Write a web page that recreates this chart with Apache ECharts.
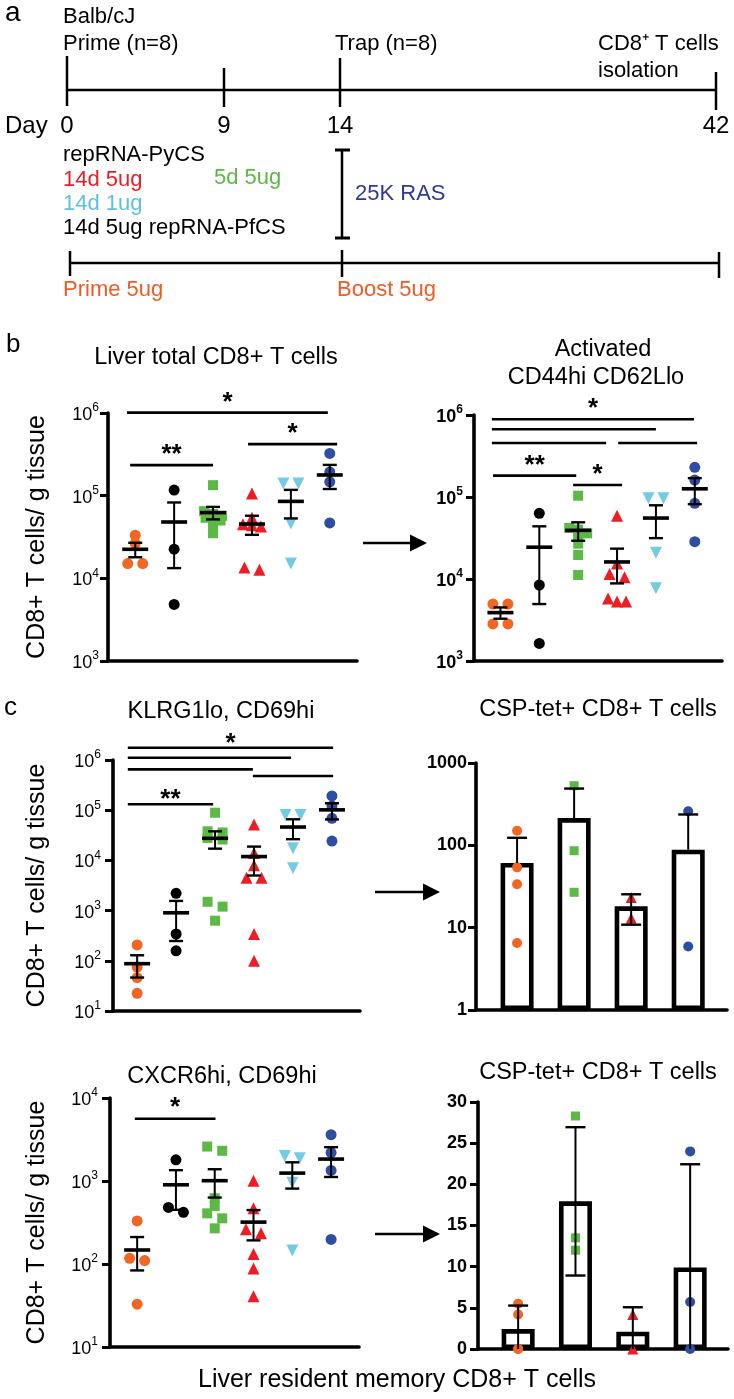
<!DOCTYPE html>
<html><head><meta charset="utf-8">
<script src="https://cdn.jsdelivr.net/npm/echarts@6/dist/echarts.min.js"></script>
<style>html,body{margin:0;padding:0;background:#fff}#c{width:734px;height:1399px}</style>
</head><body><div id="c"></div>
<script>
// ---------- data ----------
const scatterGroups = ['Prime/Boost 5ug', '14d 5ug repRNA-PfCS', '5d 5ug', '14d 5ug', '14d 1ug', '25K RAS'];
const barGroups = ['Prime/Boost 5ug', '5d 5ug', '14d 5ug', '25K RAS'];

// b: Liver total CD8+ T cells (cells / g tissue)
const totalOrange = [33200, 26400, 15100, 15100];
const totalBlack  = [116700, 22500, 4840];
const totalGreen  = [134000, 65000, 60000, 57000, 54000, 50000, 44000, 35100];
const totalRed    = [106000, 54000, 45000, 44000, 42500, 13500, 12700];
const totalCyan   = [140000, 140000, 46000, 15100];
const totalBlue   = [324000, 194000, 147000, 46800];

// b: Activated CD44hi CD62Llo
const actOrange = [4950, 4950, 2830, 2830];
const actBlack  = [63200, 8450, 1640];
const actGreen  = [103700, 42000, 40000, 36000, 34000, 27000, 19600, 11200];
const actRed    = [59100, 15500, 11500, 10500, 5800, 5300, 5300];
const actCyan   = [96400, 96400, 20900, 7710];
const actBlue   = [230000, 161000, 83800, 28500];

// c: KLRG1lo, CD69hi
const klrOrange = [207, 75, 46, 22.5];
const klrBlack  = [2210, 342, 158];
const klrGreen  = [89000, 38000, 36000, 28000, 26000, 1500, 1200, 630];
const klrRed    = [52000, 14000, 8000, 4500, 4500, 342, 100];
const klrCyan   = [80200, 80200, 17400, 6970];
const klrBlue   = [192000, 121000, 69000, 24300];

// c: CSP-tet+ CD8+ T cells (KLRG1lo CD69hi), log bars
const tetKOrange = [150, 54, 33.6, 6.5];
const tetKGreen  = [530, 86, 26.9];
const tetKRed    = [23.3, 13];
const tetKBlue   = [260, 5.9, 0];

// c: CXCR6hi, CD69hi
const cxcOrange = [330, 117, 110, 32.8];
const cxcBlack  = [1800, 480, 420];
const cxcGreen  = [2600, 2310, 620, 501, 408, 355, 269];
const cxcRed    = [1010, 469, 262, 234, 132, 88.5, 41];
const cxcCyan   = [2000, 1880, 955, 145];
const cxcBlue   = [3610, 2200, 1340, 198];

// c: CSP-tet+ CD8+ T cells (CXCR6hi CD69hi), linear bars
const tetCOrange = [5.5, 4.2, 0, 0];
const tetCGreen  = [28.3, 13.5, 12];
const tetCRed    = [4.2, 0];
const tetCBlue   = [24, 5.7, 0];

// tick labels
const ticksTotal = [1e3, 1e4, 1e5, 1e6];
const ticksKlr   = [1e1, 1e6];
const ticksTetK  = [1, 10, 100, 1000];
const ticksCxc   = [1e1, 1e4];
const ticksTetC  = [0, 5, 10, 15, 20, 25, 30];

// significance annotations: [fromX, toX, level, label]
const sigTotal = [[-0.21, 4.95, 1.01e6, '*'], [-0.13, 2.0, 2.34e5, '**'], [2.9, 5.19, 4.2e5, '*']];
const sigActivated = [[-0.22, 4.98, 8.86e5, '*'], [-0.22, 4.0, 6.7e5, ''], [-0.22, 2.72, 4.55e5, ''],
                      [3.03, 5.06, 4.55e5, ''], [-0.19, 1.95, 1.82e5, '**'], [1.87, 3.13, 1.4e5, '*']];
const sigKlr = [[-0.24, 5.03, 1.76e6, '*'], [-0.24, 3.95, 1.11e6, ''], [-0.24, 2.97, 6.5e5, ''],
                [2.97, 5.03, 4.8e5, ''], [-0.24, 1.95, 1.31e5, '**']];
const sigCxc = [[-0.06, 2.02, 5.62e3, '*']];

// ---------- styles ----------
const FONTF = '"Liberation Sans", Arial, Helvetica, sans-serif';
const COLORS = ['#f26522', '#000000', '#5cb946', '#ee1c25', '#73cbe4', '#2d4ea2'];
const SYMBOLS = ['circle', 'circle', 'rect', 'triangle', 'triangle', 'circle'];
const ROT = [0, 0, 0, 0, 180, 0];
const SIZES = [11, 11, 10, 12, 12, 11];
const BARIDX = [0, 2, 3, 5];

const panels = [
  {values: [totalOrange, totalBlack, totalGreen, totalRed, totalCyan, totalBlue], kind: 'scatter',
   grid: {left: 108, top: 413, width: 249, height: 248}, xr: [-0.7, 5.7], yType: 'log', ticks: ticksTotal,
   bold: false, margin: 9, yName: 'CD8+ T cells/ g tissue', nameGap: 58, sig: sigTotal, starGap: 16},
  {values: [actOrange, actBlack, actGreen, actRed, actCyan, actBlue], kind: 'scatter',
   grid: {left: 474, top: 415, width: 248, height: 246}, xr: [-0.68, 5.7], yType: 'log', ticks: ticksTotal,
   bold: true, margin: 11, sig: sigActivated, starGap: 16},
  {values: [klrOrange, klrBlack, klrGreen, klrRed, klrCyan, klrBlue], kind: 'scatter',
   grid: {left: 113, top: 760, width: 247, height: 251}, xr: [-0.62, 5.72], yType: 'log', ticks: ticksKlr,
   bold: false, margin: 12, yName: 'CD8+ T cells/ g tissue', nameGap: 63, sig: sigKlr, starGap: 10},
  {values: [tetKOrange, tetKGreen, tetKRed, tetKBlue], kind: 'bar',
   grid: {left: 476, top: 763, width: 251, height: 247}, xr: [-0.72, 3.68], yType: 'log', ticks: ticksTetK,
   bold: true, margin: 9},
  {values: [cxcOrange, cxcBlack, cxcGreen, cxcRed, cxcCyan, cxcBlue], kind: 'scatter',
   grid: {left: 110, top: 1098, width: 249, height: 249}, xr: [-0.7, 5.72], yType: 'log', ticks: ticksCxc,
   bold: false, margin: 12, yName: 'CD8+ T cells/ g tissue', nameGap: 60, sig: sigCxc, starGap: 17},
  {values: [tetCOrange, tetCGreen, tetCRed, tetCBlue], kind: 'bar',
   grid: {left: 478, top: 1102, width: 250, height: 247}, xr: [-0.7, 3.66], yType: 'value', ticks: ticksTetC,
   bold: true, margin: 11}
];

function mean(a) { return a.reduce((s, v) => s + v, 0) / a.length; }
function sdev(a) { const m = mean(a); return Math.sqrt(a.reduce((s, v) => s + (v - m) * (v - m), 0) / (a.length - 1)); }

function errRender(p, capHalf, meanHalf) {
  const yMin = p.ticks[0];
  return function (params, api) {
    const x = api.value(0), m = api.value(1), lo = api.value(2), hi = api.value(3);
    const c = api.coord([x, m]), top = api.coord([x, hi]);
    let lowV = lo, lowCap = true;
    if (p.yType === 'log' && lo <= 0) { lowV = m; lowCap = false; }
    if (p.yType !== 'log' && lo < yMin) { lowV = yMin; lowCap = false; }
    const bot = api.coord([x, lowV]);
    const st = {stroke: '#000', lineWidth: 2};
    const ch = [
      {type: 'line', shape: {x1: c[0], y1: top[1], x2: c[0], y2: bot[1]}, style: st},
      {type: 'line', shape: {x1: c[0] - capHalf, y1: top[1], x2: c[0] + capHalf, y2: top[1]}, style: {stroke: '#000', lineWidth: 2.4}}
    ];
    if (lowCap) ch.push({type: 'line', shape: {x1: c[0] - capHalf, y1: bot[1], x2: c[0] + capHalf, y2: bot[1]}, style: {stroke: '#000', lineWidth: 2.4}});
    if (meanHalf) ch.push({type: 'line', shape: {x1: c[0] - meanHalf, y1: c[1], x2: c[0] + meanHalf, y2: c[1]}, style: {stroke: '#000', lineWidth: 3.6}});
    return {type: 'group', children: ch};
  };
}

function buildOption(jitter) {
  const grid = [], xAxis = [], yAxis = [], series = [];
  panels.forEach((p, i) => {
    grid.push(Object.assign({containLabel: false}, p.grid));
    xAxis.push({type: 'value', gridIndex: i, min: p.xr[0], max: p.xr[1],
      axisLine: {show: true, onZero: false, lineStyle: {color: '#000', width: 3.6}},
      axisTick: {show: false}, axisLabel: {show: false}, splitLine: {show: false}});
    const weight = p.bold ? 'bold' : 'normal';
    const pow = p.yType === 'log' && p.kind === 'scatter';
    const y = {type: p.yType, gridIndex: i, min: p.ticks[0], max: p.ticks[p.ticks.length - 1],
      axisLine: {show: true, onZero: false, lineStyle: {color: '#000', width: 3.6}},
      axisTick: {show: true, inside: false, length: 8, lineStyle: {color: '#000', width: 3}},
      splitLine: {show: false}, minorTick: {show: false},
      axisLabel: {color: '#000', fontFamily: FONTF, fontSize: 18, fontWeight: weight, margin: p.margin,
        formatter: pow
          ? (v => '{b|10}{s|' + Math.round(Math.log10(v)) + '}')
          : (v => String(Math.round(v))),
        rich: {
          b: {fontFamily: FONTF, fontSize: 18, fontWeight: weight, color: '#000', lineHeight: 22, verticalAlign: 'bottom'},
          s: {fontFamily: FONTF, fontSize: 12, fontWeight: weight, color: '#000', lineHeight: 22, verticalAlign: 'top'}
        }}};
    if (p.yType === 'log') y.logBase = 10;
    else y.interval = p.ticks[1] - p.ticks[0];
    if (p.yName) Object.assign(y, {name: p.yName, nameLocation: 'middle', nameRotate: 90, nameGap: p.nameGap,
      nameTextStyle: {color: '#000', fontFamily: FONTF, fontSize: 25}});
    yAxis.push(y);

    const errData = [], barData = [];
    p.values.forEach((vals, g) => {
      const ci = p.kind === 'bar' ? BARIDX[g] : g;
      const m = mean(vals);
      const e = p.kind === 'bar' ? sdev(vals) : sdev(vals) / Math.sqrt(vals.length);
      errData.push([g, m, m - e, m + e]);
      barData.push([g, m]);
      const pts = [];
      vals.forEach((v, k) => {
        if (p.yType === 'log' && v <= 0) return;
        const dx = jitter ? jitter[i][g][k] : 0;
        pts.push([g + dx, v]);
      });
      series.push({type: 'scatter', xAxisIndex: i, yAxisIndex: i, z: 3, silent: true, clip: false,
        symbol: SYMBOLS[ci], symbolRotate: ROT[ci], symbolSize: p.kind === 'bar' ? SIZES[ci] - 1 : SIZES[ci],
        itemStyle: {color: COLORS[ci], opacity: 1}, data: pts});
    });
    if (p.kind === 'bar') {
      series.push({type: 'bar', xAxisIndex: i, yAxisIndex: i, barWidth: 33, z: 2, silent: true,
        itemStyle: {color: '#fff', borderColor: '#000', borderWidth: 4.6}, data: barData});
    }
    series.push({type: 'custom', xAxisIndex: i, yAxisIndex: i, z: 5, silent: true,
      renderItem: p.kind === 'bar' ? errRender(p, 10, 0) : errRender(p, 7, 13),
      data: errData});
  });
  return {animation: false, backgroundColor: '#fff', grid, xAxis, yAxis, series};
}

const chart = echarts.init(document.getElementById('c'));
chart.setOption(buildOption(null));

// beeswarm-like spreading of points that share a row
const jitter = panels.map((p, i) => p.values.map((vals, g) => {
  const out = vals.map(() => 0);
  if (p.kind !== 'scatter') return out;
  const unit = chart.convertToPixel({xAxisIndex: i, yAxisIndex: i}, [1, p.ticks[0]])[0] -
               chart.convertToPixel({xAxisIndex: i, yAxisIndex: i}, [0, p.ticks[0]])[0];
  const pts = vals.map((v, k) => ({k, py: chart.convertToPixel({xAxisIndex: i, yAxisIndex: i}, [g, v])[1]}))
                  .sort((a, b) => a.py - b.py);
  const rows = [];
  pts.forEach(pt => {
    const r = rows[rows.length - 1];
    if (r && pt.py - r[0].py < 6) r.push(pt); else rows.push([pt]);
  });
  rows.forEach(r => {
    const s = r.length === 2 ? 15 : 9;
    r.forEach((pt, j) => { out[pt.k] = (j - (r.length - 1) / 2) * s / unit; });
  });
  return out;
}));

const opt = buildOption(jitter);

// ---------- graphic: texts, schematic, arrows, significance bars ----------
const G = [];
function txt(text, x, y, size, opts) {
  opts = opts || {};
  G.push({type: 'text', silent: true, z: 10, style: {text, x, y, fill: opts.color || '#000',
    font: (opts.weight || 'normal') + ' ' + size + 'px ' + FONTF,
    textAlign: opts.align || 'left', textVerticalAlign: 'middle', verticalAlign: 'middle'}});
}
function ln(x1, y1, x2, y2, w) {
  G.push({type: 'line', silent: true, z: 10, shape: {x1, y1, x2, y2}, style: {stroke: '#000', lineWidth: w || 2.5}});
}
function arrow(x1, x2, y) {
  ln(x1, y, x2 - 14, y, 2.5);
  G.push({type: 'polygon', silent: true, z: 10, shape: {points: [[x2 - 17, y - 8.5], [x2, y], [x2 - 17, y + 8.5]]}, style: {fill: '#000'}});
}

// panel a schematic
txt('a', 5, 13, 28);
txt('Balb/cJ', 63, 17, 22);
txt('Prime (n=8)', 63, 44, 22);
txt('Trap (n=8)', 335, 44, 22);
txt('CD8⁺ T cells', 598, 44, 22);
txt('isolation', 598, 71, 22);
ln(67, 90, 716, 90, 2.5);
ln(67, 56, 67, 106, 2.5); ln(224, 68, 224, 107, 2.5); ln(340, 58, 340, 107, 2.5); ln(716, 72, 716, 110, 2.5);
const timelineDays = ['0', '9', '14', '42'];
const dayX = [67, 224, 340, 716];
txt('Day', 5, 126, 24);
timelineDays.forEach((d, k) => txt(d, dayX[k], 126, 24, {align: 'center'}));
txt('repRNA-PyCS', 63, 155, 22);
txt('14d 5ug', 63, 180, 22, {color: '#ee1c25'});
txt('5d 5ug', 214, 178, 22, {color: '#5cb946'});
txt('14d 1ug', 63, 204, 22, {color: '#5cc3de'});
txt('14d 5ug repRNA-PfCS', 63, 228, 22);
ln(342, 150, 342, 238, 2.5); ln(335, 150, 350, 150, 3); ln(335, 238, 350, 238, 3);
txt('25K RAS', 355, 194, 22, {color: '#2e3a94'});
ln(70, 263, 719, 263, 2.5);
ln(70, 251, 70, 276, 2.5); ln(342, 250, 342, 277, 2.5); ln(719, 252, 719, 278, 2.5);
txt('Prime 5ug', 63, 290, 22, {color: '#f15a22'});
txt('Boost 5ug', 337, 290, 22, {color: '#f15a22'});

// panel titles
txt('b', 6, 345, 26);
txt('Liver total CD8+ T cells', 216, 358, 23.5, {align: 'center'});
txt('Activated', 603, 350, 23.5, {align: 'center'});
txt('CD44hi CD62Llo', 596, 378, 23.5, {align: 'center'});
txt('c', 4, 708, 26);
txt('KLRG1lo, CD69hi', 221, 712, 23.5, {align: 'center'});
txt('CSP-tet+ CD8+ T cells', 598, 710, 23.5, {align: 'center'});
txt('CXCR6hi, CD69hi', 222, 1077, 23.5, {align: 'center'});
txt('CSP-tet+ CD8+ T cells', 598, 1073, 23.5, {align: 'center'});
txt('Liver resident memory CD8+ T cells', 397, 1380, 25, {align: 'center'});

arrow(363, 427, 543);
arrow(375, 440, 892);
arrow(375, 440, 1234);

// significance bars through the axes' scales
panels.forEach((p, i) => {
  (p.sig || []).forEach(s => {
    const a = chart.convertToPixel({xAxisIndex: i, yAxisIndex: i}, [s[0], s[2]]);
    const b = chart.convertToPixel({xAxisIndex: i, yAxisIndex: i}, [s[1], s[2]]);
    ln(a[0], a[1], b[0], b[1], 2.6);
    if (s[3]) txt(s[3], (a[0] + b[0]) / 2, a[1] - p.starGap + 6, 26, {align: 'center', weight: 'bold'});
  });
});

opt.graphic = {elements: G};
chart.setOption(opt, true);
</script>
</body></html>
